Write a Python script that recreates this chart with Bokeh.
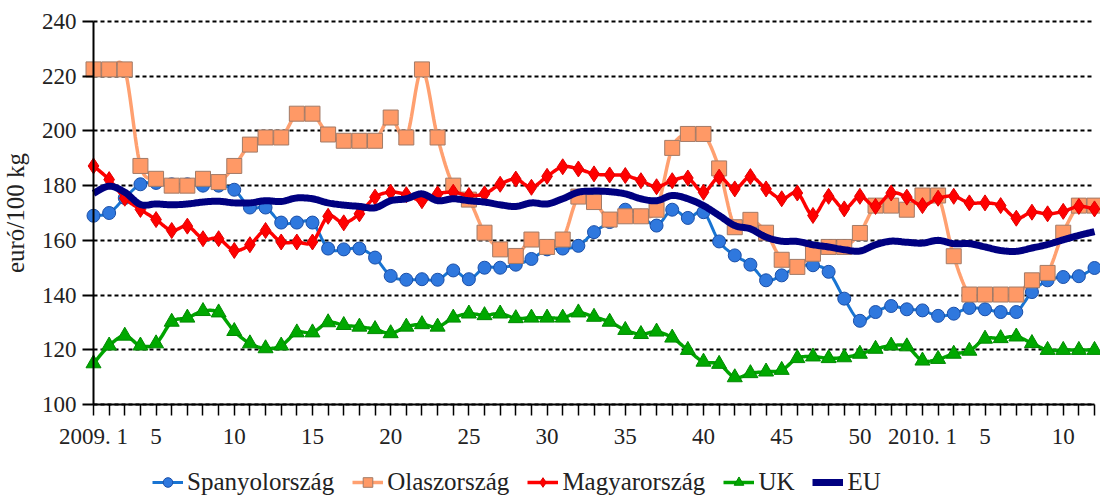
import numpy as np
from bokeh.plotting import figure
from bokeh.models import Range1d, FixedTicker, Legend, LegendItem
from bokeh.embed import file_html
from bokeh.resources import INLINE

# ---- data (weekly prices, euró/100 kg) ----
weeks_2009 = list(range(1, 54))
weeks_2010 = list(range(1, 13))
week_index = list(range(len(weeks_2009) + len(weeks_2010)))

tick_labels = {0: "2009. 1", 4: "5", 9: "10", 14: "15", 19: "20", 24: "25", 29: "30",
               34: "35", 39: "40", 44: "45", 49: "50", 53: "2010. 1", 57: "5", 62: "10"}

spain = [169, 170, 175.5, 180.5, 181, 180.5, 180.5, 180, 180, 178.5,
         172, 172, 166.5, 166.5, 166.5, 157, 156.7, 157, 153.7, 147,
         145.6, 145.8, 145.6, 149, 145.8, 150, 150, 151.1, 153.2, 156.7,
         157, 158, 163, 166.7, 171.2, 169, 165.4, 171.2, 168.2, 170.3,
         159.6, 154.5, 151.1, 145.4, 147.2, 150.3, 150.9, 148.5, 138.7, 130.6,
         133.8, 136, 134.8, 134.4, 132.4, 133.2, 135.3, 134.8, 133.8, 133.8,
         141.1, 145.4, 146.6, 146.9, 149.9]

italy = [222.5, 222.5, 222.5, 187.2, 182.5, 180, 180, 182.5, 181.3, 187.2,
         195, 197.6, 197.6, 206.3, 206.3, 198.7, 196.4, 196.4, 196.4, 204.9,
         197.6, 222.5, 197.6, 180, 174.9, 162.8, 156.7, 154.3, 160.3, 157.6,
         160.3, 176, 174, 167.6, 168.8, 168.8, 171.2, 193.8, 198.9, 198.9,
         186.3, 164.8, 167.5, 162.8, 152.9, 150.3, 155.1, 157.6, 157.6, 162.7,
         172.7, 172.7, 171.2, 176.4, 176.4, 154.2, 140.2, 140.2, 140.2, 140.2,
         145.4, 148.1, 162.8, 172.7, 172.7]

hungary = [187.2, 182.2, 175.4, 171.3, 167.6, 163.6, 165.2, 160.6, 160.6, 156.3,
           158.4, 163.6, 159.4, 159.4, 159.4, 168.8, 166.4, 169.7, 175.8, 177.6,
           176.7, 174.5, 177, 177.6, 176.4, 177, 180.5, 182.4, 179.4, 183.4,
           186.9, 186.1, 184.3, 183.9, 183.7, 181.8, 179.6, 181.8, 182.8, 177.6,
           183.1, 178.8, 183.3, 178.8, 175.2, 177.3, 169.1, 176.1, 171.5, 176.1,
           172.4, 177.3, 175.8, 172.7, 175.4, 176.1, 173.7, 173.7, 172.7, 168.1,
           170.3, 169.7, 170.6, 172.4, 171.5]

uk = [115, 121.5, 125.1, 121.5, 122.3, 130.2, 131.7, 134.1, 133.6, 126.8,
      122.3, 120.5, 121.5, 126.3, 126.3, 130, 129, 128.4, 127.5, 126,
      128.4, 129.3, 128.4, 131.7, 133.2, 132.6, 133.2, 131.5, 131.7, 131.7,
      131.7, 133.6, 132, 130.2, 127.2, 125.7, 126.6, 124.4, 119.9, 115.6,
      114.8, 109.9, 111.4, 112, 112.6, 116.9, 117.5, 116.9, 117.2, 118.5,
      120.3, 121.5, 121.2, 116, 116.6, 118.5, 119.6, 124, 124.2, 124.8,
      122.4, 119.9, 119.9, 119.9, 119.9]

eu = [177.2, 179.8, 177.6, 173.1, 173.3, 173, 173.3, 174, 174.3, 173.7,
      173.7, 174.5, 174.2, 175.5, 175.2, 173.7, 172.9, 172.4, 171.9, 174.5,
      175.2, 177, 174.5, 175.2, 174.5, 174, 173, 172.4, 173.7, 173.3,
      175.2, 177.6, 178, 177.8, 177, 175.2, 174.5, 176.4, 175.2, 172.7,
      169.1, 165.4, 164.2, 161.2, 159.7, 159.6, 158.4, 157.6, 156.6, 156.1,
      158.4, 159.7, 159.3, 159, 160, 158.8, 158.8, 157.6, 156.3, 156,
      157.2, 158.5, 160.2, 161.8, 163.2]

series_names = ["Spanyolország", "Olaszország", "Magyarország", "UK", "EU"]
y_ticks = [100, 120, 140, 160, 180, 200, 220, 240]
y_min, y_max = 100, 240


def smooth(xv, yv, n=12):
    """Catmull-Rom style smoothing (like a spreadsheet 'smoothed line')."""
    xv = np.asarray(xv, float)
    yv = np.asarray(yv, float)
    out_x, out_y = [], []
    m = len(yv)
    for i in range(m - 1):
        i0 = max(i - 1, 0)
        i3 = min(i + 2, m - 1)
        for arr, out in ((xv, out_x), (yv, out_y)):
            p0, p1, p2, p3 = arr[i0], arr[i], arr[i + 1], arr[i3]
            m1 = (p2 - p0) / 2.0
            m2 = (p3 - p1) / 2.0
            t = np.linspace(0, 1, n, endpoint=False)
            h00 = 2 * t**3 - 3 * t**2 + 1
            h10 = t**3 - 2 * t**2 + t
            h01 = -2 * t**3 + 3 * t**2
            h11 = t**3 - t**2
            out.extend(h00 * p1 + h10 * m1 + h01 * p2 + h11 * m2)
    out_x.append(xv[-1])
    out_y.append(yv[-1])
    return out_x, out_y


FONT = "Liberation Serif"
TXT = "#222222"

# ---- layout: the frame covers the whole canvas; the plot area sits inside it ----
FIG_W, FIG_H = 1100, 496
PL, PT, PW, PH = 93, 21, 1001, 383          # plot-area left/top/width/height (px)
x_first, x_last = week_index[0], week_index[-1]
sx_px = PW / (x_last - x_first)
sy_px = PH / (y_max - y_min)
x_lo = x_first - PL / sx_px
x_hi = x_last + (FIG_W - PL - PW) / sx_px
y_hi = y_max + PT / sy_px
y_lo = y_max - (FIG_H - PT) / sy_px

p = figure(width=FIG_W, height=FIG_H, x_range=Range1d(x_lo, x_hi),
           y_range=Range1d(y_lo, y_hi), output_backend="svg", toolbar_location=None,
           min_border_left=0, min_border_right=0, min_border_top=0, min_border_bottom=0)
p.outline_line_color = None
p.background_fill_color = "white"

# grid: horizontal dotted lines limited to the plot area
p.xgrid.visible = False
if "cross_bounds" in p.ygrid[0].properties():
    p.ygrid.ticker = FixedTicker(ticks=y_ticks)
    p.ygrid.cross_bounds = (x_first, x_last)
    p.ygrid.grid_line_color = "black"
    p.ygrid.grid_line_dash = "4 3"
    p.ygrid.grid_line_width = 1.8
else:
    p.ygrid.visible = False
    p.segment(x0=[x_first] * len(y_ticks), y0=y_ticks, x1=[x_last] * len(y_ticks),
              y1=y_ticks, line_color="black", line_dash="4 3", line_width=1.8)

# axes
yax = p.yaxis[0]
yax.fixed_location = x_first
yax.ticker = FixedTicker(ticks=y_ticks)
yax.bounds = (y_min, y_max)
yax.axis_line_width = 2
yax.major_tick_out = 11
yax.major_tick_in = 0
yax.major_tick_line_width = 2
yax.minor_tick_line_color = None
yax.major_label_text_font = FONT
yax.major_label_text_font_size = "23px"
yax.major_label_text_color = TXT
yax.major_label_standoff = 6
yax.axis_label = "euró/100 kg"
yax.axis_label_text_font = FONT
yax.axis_label_text_font_style = "normal"
yax.axis_label_text_font_size = "25px"
yax.axis_label_text_color = TXT
yax.axis_label_standoff = 10

xax = p.xaxis[0]
xax.fixed_location = y_min
xax.ticker = FixedTicker(ticks=week_index)
xax.bounds = (x_first, x_last)
xax.major_label_overrides = {i: tick_labels.get(i, "") for i in week_index}
xax.axis_line_width = 2
xax.major_tick_out = 11
xax.major_tick_in = 0
xax.major_tick_line_width = 1.5
xax.minor_tick_line_color = None
xax.major_label_text_font = FONT
xax.major_label_text_font_size = "23px"
xax.major_label_text_color = TXT
xax.major_label_standoff = 8

items = []

# Spain
sx, sy = smooth(week_index, spain)
l1 = p.line(sx, sy, line_color="#1874D2", line_width=3)
m1 = p.scatter(week_index, spain, marker="circle", size=13, fill_color="#2F78DE",
               line_color="#1B4FA8", line_width=1)
items.append(LegendItem(label=series_names[0], renderers=[l1, m1]))

# Italy
ix, iy = smooth(week_index, italy)
l2 = p.line(ix, iy, line_color="#FFA070", line_width=3.5)
m2 = p.scatter(week_index, italy, marker="square", size=15, fill_color="#FF9966",
               line_color="#A27A66", line_width=1)
items.append(LegendItem(label=series_names[1], renderers=[l2, m2]))

# Hungary
hx, hy = smooth(week_index, hungary)
l3 = p.line(hx, hy, line_color="#FF0000", line_width=3.5)
m3 = p.scatter(week_index, hungary, marker="diamond", size=16, fill_color="#FF0000",
               line_color="#E00000", line_width=1)
items.append(LegendItem(label=series_names[2], renderers=[l3, m3]))

# UK
ux, uy = smooth(week_index, uk)
l4 = p.line(ux, uy, line_color="#00A400", line_width=3.5)
m4 = p.scatter(week_index, uk, marker="triangle", size=15, fill_color="#00A800",
               line_color="#008A00", line_width=1)
items.append(LegendItem(label=series_names[3], renderers=[l4, m4]))

# EU
ex, ey = smooth(week_index, eu)
l5 = p.line(ex, ey, line_color="#000080", line_width=7)
items.append(LegendItem(label=series_names[4], renderers=[l5]))

legend = Legend(items=items, orientation="horizontal", location=(152, 0))
legend.label_text_font = FONT
legend.label_text_font_size = "25px"
legend.label_text_color = TXT
legend.glyph_width = 31
legend.glyph_height = 24
legend.label_standoff = 4
legend.spacing = 18
legend.padding = 0
legend.margin = 0
legend.border_line_color = None
legend.background_fill_alpha = 0
p.add_layout(legend)

open("out.html", "w").write(file_html(p, INLINE))
